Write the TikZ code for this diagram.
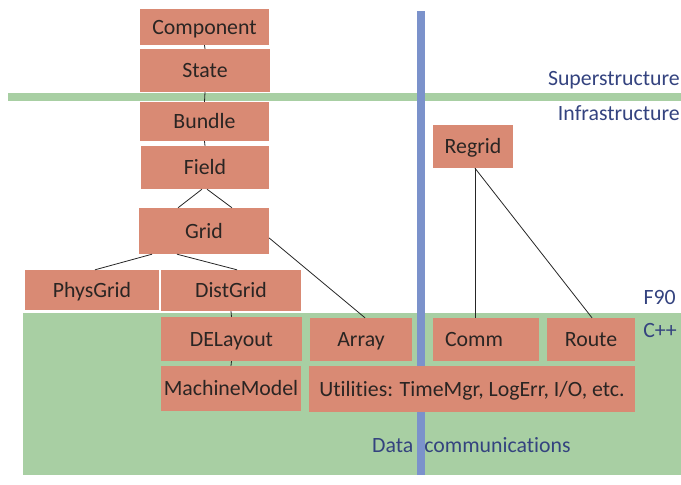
\documentclass[tikz,border=0pt]{standalone}
\usepackage{fontspec}
\setmainfont[Ligatures=NoCommon]{Carlito}
\definecolor{boxfill}{HTML}{D98A74}
\definecolor{layergreen}{HTML}{A8CFA3}
\definecolor{commblue}{HTML}{7B92CB}
\definecolor{labelblue}{HTML}{34437F}
\definecolor{inktext}{HTML}{2A2523}
\newcommand{\diagfont}{\fontsize{21.8}{26}\selectfont}
\tikzset{
  box/.style={fill=boxfill, draw=none, inner sep=0pt, text=inktext,
    font=\diagfont, text height=14.1pt, text depth=0pt},
  link/.style={draw=black!85, line width=0.8pt},
  layerlabel/.style={text=labelblue, inner sep=0pt, font=\diagfont},
  boxtext/.style={text=inktext, font=\diagfont, inner sep=0pt,
    text height=14.1pt, text depth=0pt}
}
\begin{document}
\begin{tikzpicture}[x=1pt,y=-1pt]
\useasboundingbox (0,0) rectangle (681,485);

% C++ layer and the superstructure/infrastructure divider
\fill[layergreen] (23,313) rectangle (681,475);
\fill[layergreen] (8,93) rectangle (681,101);
% data / communications divider
\fill[commblue] (417,11) rectangle (425,475);

% boxes
\node[box, minimum width=129pt, minimum height=36pt] (component) at (204.5,27) {Component};
\node[box, minimum width=130pt, minimum height=43pt] (state) at (205,70.5) {State};
\node[box, minimum width=129pt, minimum height=39pt] (bundle) at (204.5,121.5) {Bundle};
\node[box, minimum width=128pt, minimum height=43pt] (field) at (205,167.5) {Field};
\node[box, minimum width=130pt, minimum height=46pt] (grid) at (204,231) {Grid};
\node[box, minimum width=134pt, minimum height=40pt] (physgrid) at (92,290) {PhysGrid};
\node[box, minimum width=140pt, minimum height=41pt] (distgrid) at (231,290.5) {DistGrid};
\node[box, minimum width=141pt, minimum height=44pt] (delayout) at (231.5,339) {DELayout};
\node[box, minimum width=140pt, minimum height=45pt] (machine) at (231,388.5) {MachineModel};
\node[box, minimum width=102pt, minimum height=43pt] (array) at (361,339.5) {Array};
\node[box, minimum width=326pt, minimum height=46pt] (utilities) at (472,389) {Utilities: TimeMgr, LogErr, I/O, etc.};
\node[box, minimum width=106pt, minimum height=43pt,
  label={[boxtext, xshift=-12pt]center:Comm}] (comm) at (486,339.5) {};
\node[box, minimum width=88pt, minimum height=43pt] (route) at (591,339.5) {Route};
\node[box, minimum width=80pt, minimum height=43pt] (regrid) at (473,146.5) {Regrid};

% connectors
\draw[link] (component.south) -- (state.north);
\draw[link] (state.south) -- (bundle.north);
\draw[link] (bundle.south) -- (field.north);
\draw[link] ([xshift=-3pt]field.south) -- ([xshift=-26pt]grid.north);
\draw[link] ([xshift=2pt]field.south) -- ([xshift=28pt]grid.north);
\draw[link] ([xshift=-52pt]grid.south) -- ([xshift=3pt]physgrid.north);
\draw[link] ([xshift=-27pt]grid.south) -- ([xshift=6pt]distgrid.north);
\draw[link] ([yshift=-7pt]grid.east) -- ([xshift=4pt]array.north);
\draw[link] (distgrid.south) -- (delayout.north);
\draw[link] (delayout.south) -- (machine.north);
\draw[link] ([xshift=2pt]regrid.south) -- ([xshift=-11pt]comm.north);
\draw[link] ([xshift=2pt]regrid.south) -- ([xshift=1pt]route.north);

% layer labels
\node[layerlabel, anchor=base east] (superlbl) at (680,85) {Superstructure};
\node[layerlabel, anchor=base east] (infralbl) at (680,120) {Infrastructure};
\node[layerlabel, anchor=base east] (f90lbl) at (676,304) {F90};
\node[layerlabel, anchor=base east] (cpplbl) at (677,337) {C++};
\node[layerlabel, anchor=base west] (datalbl) at (372,452) {Data\hspace{11pt}communications};
\end{tikzpicture}
\end{document}
